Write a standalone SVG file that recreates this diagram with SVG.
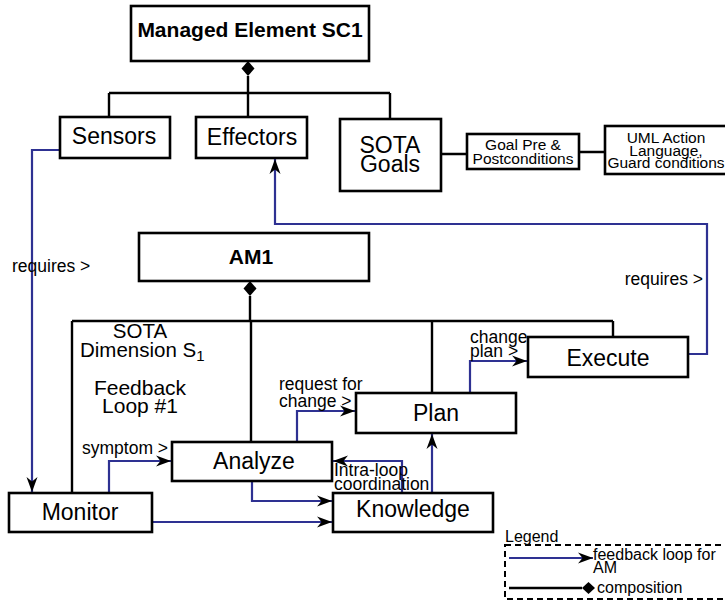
<svg xmlns="http://www.w3.org/2000/svg" width="725" height="601" viewBox="0 0 725 601">
  <style>
    text { font-family: "Liberation Sans", Arial, sans-serif; fill: #000; }
    .box { fill: #fff; stroke: #000; stroke-width: 2.6; }
    .comp { fill: none; stroke: #000; stroke-width: 2.4; }
    .flow { fill: none; stroke: #2e3192; stroke-width: 2.2; }
    .big { font-size: 23px; text-anchor: middle; }
    .title { font-size: 21px; font-weight: bold; text-anchor: middle; }
    .lbl { font-size: 17.5px; }
    .small { font-size: 15.5px; text-anchor: middle; }
    .leg { font-size: 16px; }
  </style>
  <defs>
    <marker id="arrow" markerUnits="userSpaceOnUse" markerWidth="16" markerHeight="12" refX="15" refY="6" orient="auto">
      <path d="M0,0.5 L15,6 L0,11.5 L4.5,6 Z" fill="#000"/>
    </marker>
  </defs>

  <!-- composition connectors -->
  <g id="composition">
    <polygon points="248,61 254.5,68.5 248,76 241.5,68.5" fill="#000"/>
    <path class="comp" d="M248,76 V93 M109,93 H390 M109,93 V117 M248,93 V117 M390,93 V119"/>
    <path class="comp" d="M441,154 H467 M579,152 H605"/>
    <polygon points="250,281 256.5,288.5 250,296 243.5,288.5" fill="#000"/>
    <path class="comp" d="M250,296 V321 M72,321 H613 M72,321 V493 M251,321 V442 M432,321 V393 M613,321 V337"/>
  </g>

  <!-- feedback loop connectors -->
  <g id="connectors">
    <path class="flow" d="M60,150 H32 V492" marker-end="url(#arrow)"/>
    <path class="flow" d="M688,354 H707 V224 H275 V159" marker-end="url(#arrow)"/>
    <path class="flow" d="M470,393 V361 H527" marker-end="url(#arrow)"/>
    <path class="flow" d="M109,493 V461 H171" marker-end="url(#arrow)"/>
    <path class="flow" d="M297,442 V411 H355" marker-end="url(#arrow)"/>
    <path class="flow" d="M252,481 V501 H332" marker-end="url(#arrow)"/>
    <path class="flow" d="M152,522 H332" marker-end="url(#arrow)"/>
    <path class="flow" d="M402,493 V461 H333" marker-end="url(#arrow)"/>
    <path class="flow" d="M432,493 V434" marker-end="url(#arrow)"/>
  </g>

  <g id="managed-element">
    <rect class="box" x="131" y="6" width="238" height="55"/>
    <text class="title" x="250" y="37">Managed Element SC1</text>
  </g>
  <g id="sensors">
    <rect class="box" x="60" y="117" width="110" height="41"/>
    <text class="big" x="114" y="144">Sensors</text>
  </g>
  <g id="effectors">
    <rect class="box" x="196" y="117" width="111" height="41"/>
    <text class="big" x="252" y="145">Effectors</text>
  </g>
  <g id="sota-goals">
    <rect class="box" x="340" y="119" width="101" height="72"/>
    <text class="big" x="390" y="153">SOTA</text>
    <text class="big" x="390" y="172">Goals</text>
  </g>
  <g id="goal-conditions">
    <rect class="box" x="467" y="134" width="112" height="35"/>
    <text class="small" x="523" y="150">Goal Pre &amp;</text>
    <text class="small" x="523" y="164">Postconditions</text>
  </g>
  <g id="uml-action">
    <rect class="box" x="605" y="126" width="125" height="48"/>
    <text class="small" x="666" y="143">UML Action</text>
    <text class="small" x="666" y="156">Language,</text>
    <text class="small" x="666" y="168">Guard conditions</text>
  </g>
  <g id="am1">
    <rect class="box" x="139" y="233" width="230" height="48"/>
    <text class="title" x="251" y="264">AM1</text>
  </g>
  <g id="execute">
    <rect class="box" x="528" y="337" width="160" height="40"/>
    <text class="big" x="608" y="366">Execute</text>
  </g>
  <g id="plan">
    <rect class="box" x="356" y="393" width="160" height="40"/>
    <text class="big" x="436" y="421">Plan</text>
  </g>
  <g id="analyze">
    <rect class="box" x="172" y="442" width="160" height="39"/>
    <text class="big" x="254" y="469">Analyze</text>
  </g>
  <g id="monitor">
    <rect class="box" x="9" y="493" width="143" height="39"/>
    <text class="big" x="80" y="520">Monitor</text>
  </g>
  <g id="knowledge">
    <rect class="box" x="333" y="493" width="160" height="39"/>
    <text class="big" x="413" y="517">Knowledge</text>
  </g>

  <!-- loop dimension caption -->
  <g id="dimension">
    <text x="140" y="338" style="font-size:20.5px;text-anchor:middle">SOTA</text>
    <text x="80" y="357" style="font-size:20.5px">Dimension S<tspan dy="4" style="font-size:15px">1</tspan></text>
    <text x="140" y="395" style="font-size:21px;text-anchor:middle">Feedback</text>
    <text x="140" y="413" style="font-size:21px;text-anchor:middle">Loop #1</text>
  </g>

  <!-- connector labels -->
  <g id="labels">
    <text class="lbl" x="12" y="272">requires &gt;</text>
    <text class="lbl" x="703" y="285" text-anchor="end">requires &gt;</text>
    <text class="lbl" x="470" y="343">change</text>
    <text class="lbl" x="470" y="357">plan &gt;</text>
    <text class="lbl" x="279" y="390">request for</text>
    <text class="lbl" x="279" y="407">change &gt;</text>
    <text class="lbl" x="82" y="454">symptom &gt;</text>
    <text class="lbl" x="334" y="476">Intra-loop</text>
    <text class="lbl" x="334" y="490">coordination</text>
  </g>

  <g id="legend">
    <rect x="505" y="545" width="222" height="54" fill="none" stroke="#000" stroke-width="2" stroke-dasharray="6,4"/>
    <text class="leg" x="505" y="542">Legend</text>
    <line class="flow" x1="509" y1="558" x2="593" y2="558" marker-end="url(#arrow)"/>
    <text class="leg" x="593" y="560">feedback loop for</text>
    <text class="leg" x="593" y="573">AM</text>
    <line class="comp" x1="509" y1="588" x2="582" y2="588"/>
    <polygon points="582,588 588.5,582 595,588 588.5,594" fill="#000"/>
    <text class="leg" x="597" y="593">composition</text>
  </g>
</svg>
